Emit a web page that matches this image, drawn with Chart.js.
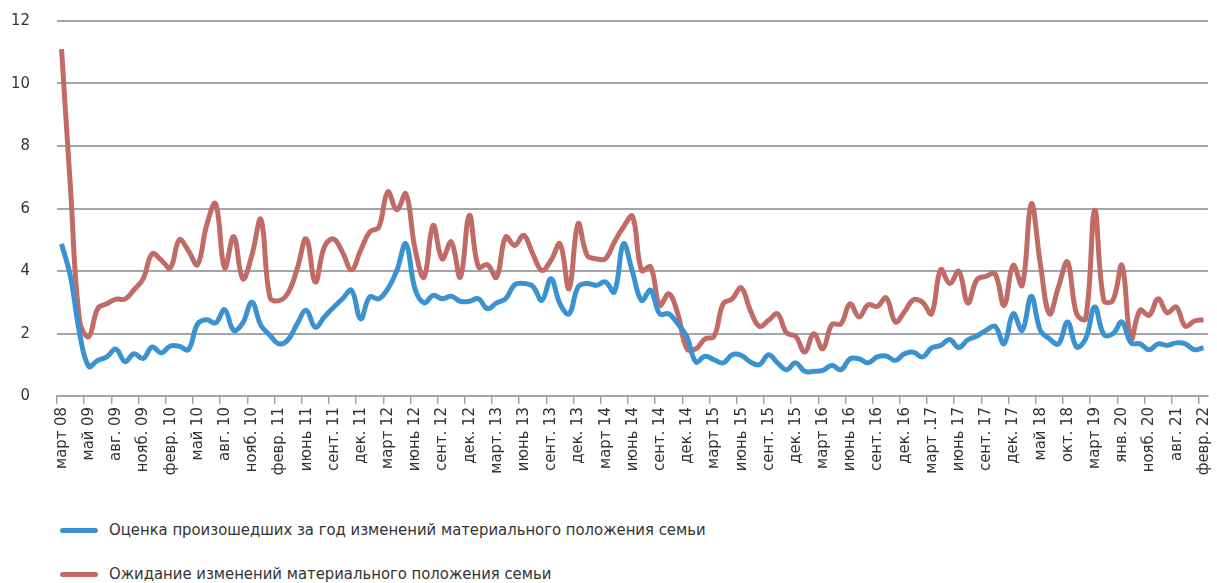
<!DOCTYPE html>
<html lang="ru">
<head>
<meta charset="utf-8">
<script src="https://cdn.jsdelivr.net/npm/chart.js@4.4.1/dist/chart.umd.min.js"></script>
<style>
  body { margin: 0; background: #fff; font-family: "Liberation Sans Narrow", "DejaVu Sans Condensed", sans-serif; }
  #wrap { position: relative; width: 1217px; height: 583px; }
  #chart { position: absolute; left: 0; top: 0; }
  .leg { position: absolute; left: 60px; font-size: 16.5px; color: #333; white-space: nowrap; }
  .leg span { display: inline-block; width: 38px; height: 5px; border-radius: 3px; vertical-align: middle; margin-right: 11px; }
</style>
</head>
<body>
<div id="wrap">
  <canvas id="chart" width="1217" height="510"></canvas>
  <div class="leg" style="top:520px"><span style="background:#3a93d0"></span>Оценка произошедших за год изменений материального положения семьи</div>
  <div class="leg" style="top:564px"><span style="background:#c06b66"></span>Ожидание изменений материального положения семьи</div>
</div>
<script>
// Tick labels (every third observation)
const tickLabels = ['март 08', 'май 09', 'авг. 09', 'нояб. 09', 'февр. 10', 'май 10', 'авг. 10', 'нояб. 10',
    'февр. 11', 'июнь 11', 'сент. 11', 'дек. 11', 'март 12', 'июнь 12', 'сент. 12', 'дек. 12',
    'март. 13', 'июнь 13', 'сент. 13', 'дек. 13', 'март 14', 'июнь 14', 'сент. 14', 'дек. 14',
    'март 15', 'июнь 15', 'сент. 15', 'дек. 15', 'март 16', 'июнь 16', 'сент. 16', 'дек. 16',
    'март .17', 'июнь 17', 'сент. 17', 'дек. 17', 'май 18', 'окт. 18', 'март 19', 'янв. 20',
    'нояб. 20', 'авг. 21', 'февр. 22'];

// Оценка произошедших за год изменений
const pastChange = [
    4.87, 3.8, 2.0, 0.95, 1.14, 1.25, 1.5, 1.1, 1.35, 1.2, 1.57, 1.38, 1.6, 1.59, 1.48, 2.3,
    2.44, 2.34, 2.76, 2.1, 2.34, 3.0, 2.26, 1.94, 1.67, 1.8, 2.31, 2.74, 2.2, 2.53, 2.83, 3.11,
    3.38, 2.47, 3.17, 3.11, 3.43, 4.02, 4.87, 3.43, 2.98, 3.22, 3.11, 3.19, 3.03, 3.03, 3.11, 2.79,
    2.98, 3.11, 3.56, 3.6, 3.51, 3.06, 3.75, 2.95, 2.63, 3.49, 3.6, 3.54, 3.65, 3.33, 4.87, 3.97,
    3.06, 3.38, 2.63, 2.63, 2.31, 1.89, 1.09, 1.27, 1.16, 1.06, 1.32, 1.3, 1.09, 1.0, 1.32, 1.06,
    0.84, 1.06, 0.79, 0.79, 0.82, 0.98, 0.84, 1.19, 1.19, 1.06, 1.25, 1.28, 1.14, 1.35, 1.4, 1.25,
    1.54, 1.62, 1.81, 1.55, 1.8, 1.92, 2.1, 2.23, 1.67, 2.63, 2.1, 3.19, 2.1, 1.83, 1.67, 2.37,
    1.57, 1.83, 2.85, 1.97, 1.99, 2.37, 1.7, 1.67, 1.48, 1.67, 1.62, 1.7, 1.67, 1.48, 1.55];

// Ожидание изменений
const expectedChange = [
    11.1, 6.6, 2.4, 1.9, 2.8, 2.95, 3.1, 3.1, 3.4, 3.75, 4.55, 4.35, 4.1, 5.0, 4.65, 4.2,
    5.45, 6.15, 4.1, 5.1, 3.75, 4.5, 5.65, 3.15, 3.05, 3.3, 4.07, 5.03, 3.65, 4.77, 5.03, 4.6,
    4.04, 4.66, 5.25, 5.4, 6.53, 5.96, 6.47, 4.71, 3.8, 5.46, 4.39, 4.93, 3.8, 5.78, 4.13, 4.2,
    3.8, 5.09, 4.82, 5.14, 4.55, 4.02, 4.34, 4.87, 3.43, 5.51, 4.5, 4.39, 4.39, 4.93, 5.41, 5.75,
    4.02, 4.13, 2.9, 3.27, 2.63, 1.51, 1.51, 1.83, 1.91, 2.95, 3.11, 3.46, 2.74, 2.23, 2.42, 2.63,
    2.02, 1.91, 1.41, 1.99, 1.51, 2.29, 2.31, 2.95, 2.53, 2.92, 2.87, 3.14, 2.37, 2.69, 3.08, 3.0,
    2.63, 4.04, 3.6, 3.99, 2.98, 3.72, 3.83, 3.91, 2.9, 4.18, 3.54, 6.15, 4.23, 2.63, 3.49, 4.29,
    2.63, 2.47, 5.94, 3.06, 3.06, 4.18, 1.83, 2.74, 2.58, 3.11, 2.66, 2.85, 2.23, 2.4, 2.44];

const labels = pastChange.map((v, i) => (i % 3 === 0 ? tickLabels[i / 3] : ''));

const gridColor = '#a2a5aa';
const fontFamily = '"Liberation Sans Narrow", "DejaVu Sans Condensed", sans-serif';

new Chart(document.getElementById('chart'), {
    type: 'line',
    data: {
        labels: labels,
        datasets: [{
            label: 'Оценка произошедших за год изменений материального положения семьи',
            data: pastChange,
            borderColor: '#3a93d0',
            borderWidth: 5,
            pointRadius: 0,
            tension: 0.4,
            fill: false
        }, {
            label: 'Ожидание изменений материального положения семьи',
            data: expectedChange,
            borderColor: '#c06b66',
            borderWidth: 5,
            pointRadius: 0,
            tension: 0.4,
            fill: false
        }]
    },
    options: {
        responsive: false,
        animation: false,
        layout: { padding: { top: 21, right: 9, left: 0, bottom: 0 } },
        plugins: {
            legend: { display: false },
            tooltip: { enabled: false }
        },
        scales: {
            x: {
                offset: true,
                grid: {
                    offset: true,
                    drawOnChartArea: false,
                    drawTicks: true,
                    tickLength: 8,
                    lineWidth: 1.5,
                    color: ctx => (ctx.index % 3 === 0 ? gridColor : 'rgba(0,0,0,0)')
                },
                border: { display: true, color: gridColor, width: 2 },
                ticks: {
                    autoSkip: false,
                    minRotation: 90,
                    maxRotation: 90,
                    padding: 3,
                    color: '#333',
                    font: { family: fontFamily, size: 16.5 }
                },
                afterFit: scale => {
                    scale.height = 114;
                    scale.paddingLeft = 0;
                    scale.paddingRight = 0;
                }
            },
            y: {
                min: 0,
                max: 12,
                ticks: {
                    stepSize: 2,
                    padding: 27,
                    color: '#333',
                    font: { family: fontFamily, size: 16.5 }
                },
                grid: { color: gridColor, lineWidth: 2, drawTicks: false },
                border: { display: false },
                afterFit: scale => {
                    scale.width = 57;
                    scale.paddingTop = 0;
                    scale.paddingBottom = 0;
                }
            }
        }
    }
});
</script>
</body>
</html>
